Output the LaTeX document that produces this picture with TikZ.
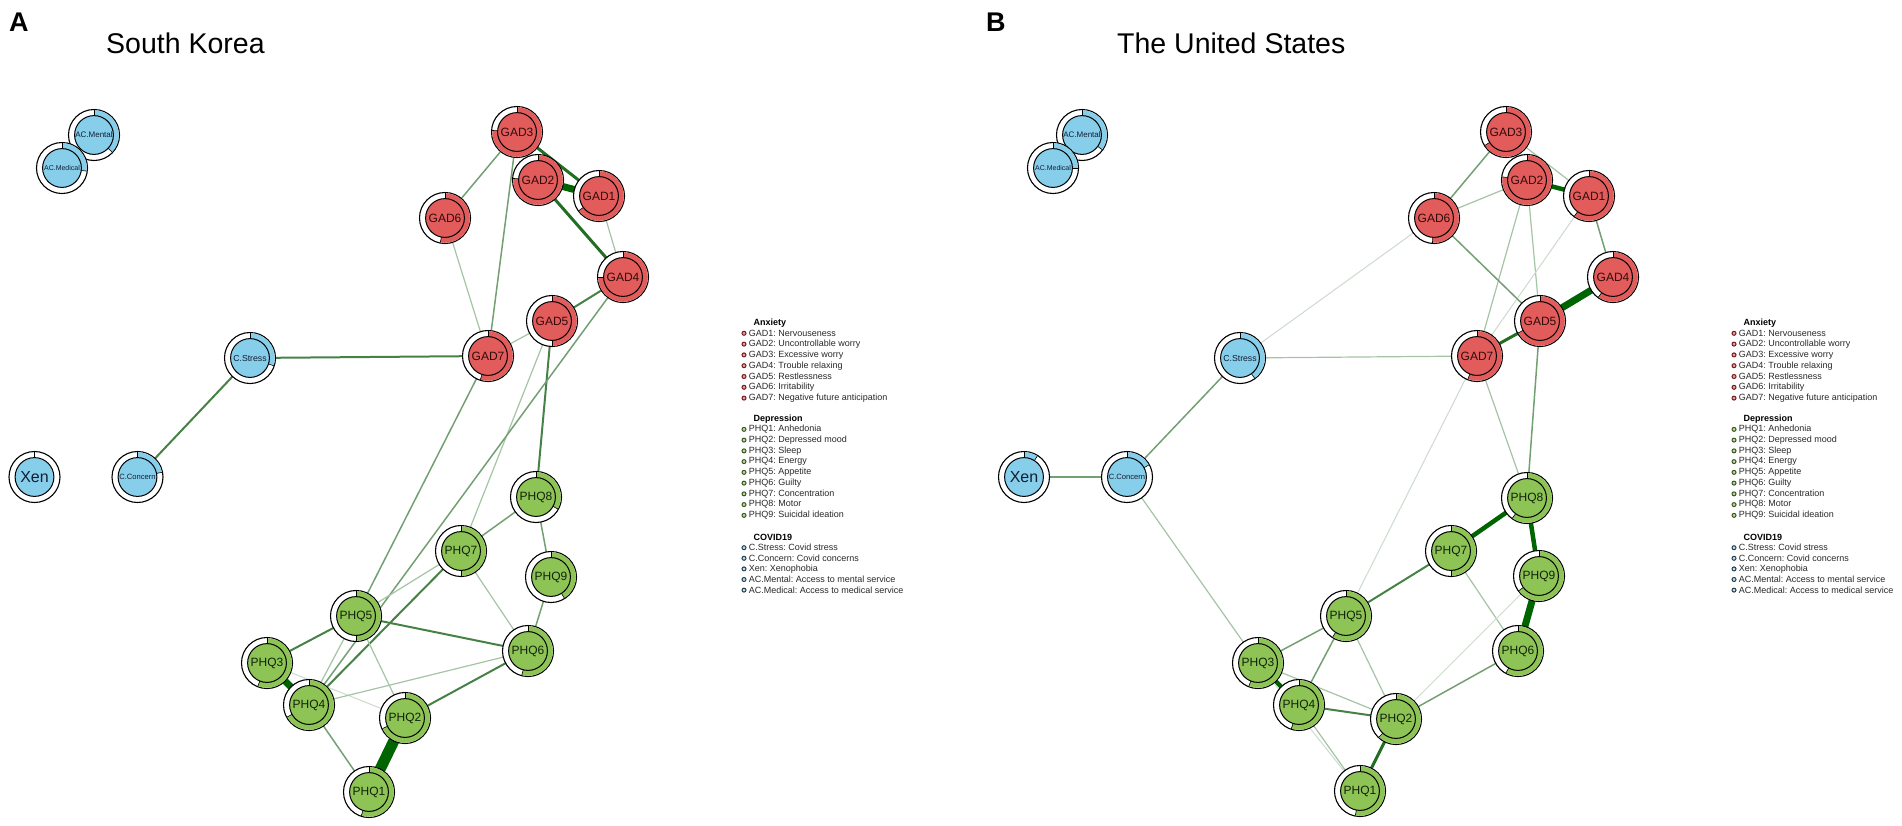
\documentclass[tikz,border=0pt]{standalone}
\usepackage{fontspec}
\setmainfont{Liberation Sans}
\usetikzlibrary{calc}
\pgfdeclarelayer{background}
\pgfsetlayers{background,main}
\frenchspacing
\definecolor{gadc}{RGB}{226,92,92}
\definecolor{phqc}{RGB}{141,196,85}
\definecolor{covc}{RGB}{135,206,235}
\definecolor{gadt}{RGB}{50,10,10}
\definecolor{phqt}{RGB}{18,34,10}
\definecolor{covt}{RGB}{18,30,52}
\definecolor{ea}{RGB}{205,218,205}
\definecolor{eb}{RGB}{165,195,165}
\definecolor{ec}{RGB}{115,160,115}
\definecolor{ed}{RGB}{70,130,70}
\definecolor{ee}{RGB}{35,110,35}
\definecolor{ef}{RGB}{0,100,0}
\definecolor{legt}{RGB}{40,40,40}
\definecolor{bgad}{RGB}{110,30,30}
\definecolor{bphq}{RGB}{60,85,35}
\definecolor{bcov}{RGB}{40,60,75}
\tikzset{
  outer/.style={circle, draw=black, line width=1.1pt, fill=white, minimum size=51pt, inner sep=0pt, outer sep=0pt},
  ticky/.style={draw=black, line width=0.6pt},
  w1/.style={line width=1pt, draw=ea},
  w2/.style={line width=1.2pt, draw=eb},
  w3/.style={line width=1.5pt, draw=ec},
  w4/.style={line width=2pt, draw=ed},
  w5/.style={line width=3pt, draw=ee},
  w6/.style={line width=4.5pt, draw=ef},
  w7/.style={line width=7pt, draw=ef},
  w8/.style={line width=11pt, draw=ef},
  legtxt/.style={anchor=west, inner sep=0pt, font=\fontsize{9}{10}\selectfont\frenchspacing, text=legt},
  leghead/.style={anchor=west, inner sep=0pt, font=\fontsize{9}{10}\selectfont\bfseries, text=black},
  panelletter/.style={anchor=base west, inner sep=0pt, font=\fontsize{27}{27}\selectfont\bfseries},
  paneltitle/.style={anchor=base west, inner sep=0pt, font=\fontsize{28.5}{30}\selectfont},
}
% name, x, y, fill, predictability, label, font size, text colour
\newcommand\netnode[8]{%
  \node[outer] (#1) at (#2,#3) {};
  \fill[#4] (#1.center) -- ++(-90:24.8) arc[start angle=-90, delta angle={360*#5}, radius=24.8] -- cycle;
  \draw[ticky] (#1.center) ++(-90:19.4) -- ++(-90:5.6);
  \draw[ticky] (#1.center) ++({-90+360*#5}:19.4) -- ++({-90+360*#5}:5.6);
  \filldraw[fill=#4, draw=black, line width=1pt] (#1.center) circle[radius=19.4];
  \node[font=\fontsize{#7}{#7}\selectfont, text=#8, inner sep=0pt] (#1-l) at (#1.center) {#6};
}
% prefix, x offset
\newcommand\netlegend[2]{%
  \node[leghead] (#1h1) at (753.3+#2,323.3) {Anxiety};
  \foreach \t [count=\i] in {GAD1: Nervouseness, GAD2: Uncontrollable worry, GAD3: Excessive worry, GAD4: Trouble relaxing, GAD5: Restlessness, GAD6: Irritability, GAD7: Negative future anticipation}{
    \filldraw[draw=bgad, fill=gadc!60, line width=1pt] (744+#2,{322.5+10.8*\i}) circle[radius=2];
    \node[legtxt] (#1a\i) at (748.7+#2,{322.5+10.8*\i}) {\t};
  }
  \node[leghead] (#1h2) at (753.3+#2,419.3) {Depression};
  \foreach \t [count=\i] in {PHQ1: Anhedonia, PHQ2: Depressed mood, PHQ3: Sleep, PHQ4: Energy, PHQ5: Appetite, PHQ6: Guilty, PHQ7: Concentration, PHQ8: Motor, PHQ9: Suicidal ideation}{
    \filldraw[draw=bphq, fill=phqc!60, line width=1pt] (744+#2,{418.6+10.75*\i}) circle[radius=2];
    \node[legtxt] (#1b\i) at (748.7+#2,{418.6+10.75*\i}) {\t};
  }
  \node[leghead] (#1h3) at (753.3+#2,537.3) {COVID19};
  \foreach \t [count=\i] in {C.Stress: Covid stress, C.Concern: Covid concerns, Xen: Xenophobia, AC.Mental: Access to mental service, AC.Medical: Access to medical service}{
    \filldraw[draw=bcov, fill=covc!60, line width=1pt] (744+#2,{537.1+10.6*\i}) circle[radius=2];
    \node[legtxt] (#1c\i) at (748.7+#2,{537.1+10.6*\i}) {\t};
  }
}
\begin{document}
\begin{tikzpicture}[x=1pt,y=-1pt]
\path[use as bounding box] (0,0) rectangle (1902,825);
% titles
\node[panelletter] (letA) at (9,31) {A};
\node[paneltitle] (titA) at (106,53) {South Korea};
\node[panelletter] (letB) at (986,31) {B};
\node[paneltitle] (titB) at (1117,53) {The United States};
% ---------------- panel A nodes
\netnode{lACMe}{94}{135}{covc}{0.37}{AC.Mental}{8}{covt}
\netnode{lACMd}{62}{168}{covc}{0.27}{AC.Medical}{7}{covt}
\netnode{lGAD3}{517}{132}{gadc}{0.76}{GAD3}{12}{gadt}
\netnode{lGAD2}{538}{180}{gadc}{0.76}{GAD2}{12}{gadt}
\netnode{lGAD1}{599}{196}{gadc}{0.65}{GAD1}{12}{gadt}
\netnode{lGAD6}{445}{218}{gadc}{0.53}{GAD6}{12}{gadt}
\netnode{lGAD4}{623}{277}{gadc}{0.75}{GAD4}{12}{gadt}
\netnode{lGAD5}{552}{321}{gadc}{0.50}{GAD5}{12}{gadt}
\netnode{lGAD7}{488}{356}{gadc}{0.55}{GAD7}{12}{gadt}
\netnode{lCS}{250}{358}{covc}{0.30}{C.Stress}{8.7}{covt}
\netnode{lXen}{34.5}{477}{covc}{0.0}{Xen}{16}{covt}
\netnode{lCC}{137.5}{477}{covc}{0.22}{C.Concern}{7.6}{covt}
\netnode{lPHQ8}{536}{497}{phqc}{0.33}{PHQ8}{12}{phqt}
\netnode{lPHQ7}{461}{551}{phqc}{0.50}{PHQ7}{12}{phqt}
\netnode{lPHQ9}{551}{577}{phqc}{0.41}{PHQ9}{12}{phqt}
\netnode{lPHQ5}{356}{616}{phqc}{0.50}{PHQ5}{12}{phqt}
\netnode{lPHQ6}{528}{651}{phqc}{0.54}{PHQ6}{12}{phqt}
\netnode{lPHQ3}{267}{663}{phqc}{0.56}{PHQ3}{12}{phqt}
\netnode{lPHQ4}{309}{705}{phqc}{0.67}{PHQ4}{12}{phqt}
\netnode{lPHQ2}{405}{718}{phqc}{0.68}{PHQ2}{12}{phqt}
\netnode{lPHQ1}{369}{792}{phqc}{0.55}{PHQ1}{12}{phqt}
% ---------------- panel B nodes
\netnode{rACMe}{1082}{135}{covc}{0.35}{AC.Mental}{8}{covt}
\netnode{rACMd}{1053}{168}{covc}{0.25}{AC.Medical}{7}{covt}
\netnode{rGAD3}{1506}{132}{gadc}{0.66}{GAD3}{12}{gadt}
\netnode{rGAD2}{1527}{180}{gadc}{0.77}{GAD2}{12}{gadt}
\netnode{rGAD1}{1589}{196}{gadc}{0.60}{GAD1}{12}{gadt}
\netnode{rGAD6}{1434}{218}{gadc}{0.51}{GAD6}{12}{gadt}
\netnode{rGAD4}{1613}{277}{gadc}{0.60}{GAD4}{12}{gadt}
\netnode{rGAD5}{1540}{321}{gadc}{0.67}{GAD5}{12}{gadt}
\netnode{rGAD7}{1477}{356}{gadc}{0.56}{GAD7}{12}{gadt}
\netnode{rCS}{1240}{358}{covc}{0.40}{C.Stress}{8.7}{covt}
\netnode{rXen}{1024}{477}{covc}{0.09}{Xen}{16}{covt}
\netnode{rCC}{1127}{477}{covc}{0.17}{C.Concern}{7.6}{covt}
\netnode{rPHQ8}{1527}{498}{phqc}{0.60}{PHQ8}{12}{phqt}
\netnode{rPHQ7}{1451}{551}{phqc}{0.50}{PHQ7}{12}{phqt}
\netnode{rPHQ9}{1539}{576}{phqc}{0.65}{PHQ9}{12}{phqt}
\netnode{rPHQ5}{1346}{616}{phqc}{0.59}{PHQ5}{12}{phqt}
\netnode{rPHQ6}{1518}{651}{phqc}{0.58}{PHQ6}{12}{phqt}
\netnode{rPHQ3}{1258}{663}{phqc}{0.56}{PHQ3}{12}{phqt}
\netnode{rPHQ4}{1299}{705}{phqc}{0.55}{PHQ4}{12}{phqt}
\netnode{rPHQ2}{1396}{719}{phqc}{0.62}{PHQ2}{12}{phqt}
\netnode{rPHQ1}{1360}{791}{phqc}{0.53}{PHQ1}{12}{phqt}
% ---------------- edges
\begin{pgfonlayer}{background}
% panel A
\draw[w7] (lGAD1) -- (lGAD2);
\draw[w5] (lGAD3) -- (lGAD1);
\draw[w5] (lGAD2) -- (lGAD4);
\draw[w2] (lGAD1) -- (lGAD4);
\draw[w3] (lGAD3) -- (lGAD6);
\draw[w3] (lGAD3) -- (lGAD7);
\draw[w2] (lGAD6) -- (lGAD7);
\draw[w4] (lGAD4) -- (lGAD5);
\draw[w2] (lGAD5) -- (lGAD7);
\draw[w4] (lGAD7) -- (lCS);
\draw[w4] (lCS) -- (lCC);
\draw[w4] (lGAD5) -- (lPHQ8);
\draw[w2] (lGAD5) -- (lPHQ7);
\draw[w3] (lGAD7) -- (lPHQ5);
\draw[w3] (lGAD4) -- (lPHQ4);
\draw[w3] (lPHQ8) -- (lPHQ7);
\draw[w3] (lPHQ8) -- (lPHQ9);
\draw[w3] (lPHQ9) -- (lPHQ6);
\draw[w2] (lPHQ7) -- (lPHQ5);
\draw[w2] (lPHQ7) -- (lPHQ6);
\draw[w4] (lPHQ7) -- (lPHQ4);
\draw[w4] (lPHQ5) -- (lPHQ6);
\draw[w4] (lPHQ5) -- (lPHQ3);
\draw[w2] (lPHQ5) -- (lPHQ4);
\draw[w2] (lPHQ5) -- (lPHQ2);
\draw[w7] (lPHQ3) -- (lPHQ4);
\draw[w1] (lPHQ3) -- (lPHQ2);
\draw[w2] (lPHQ6) -- (lPHQ4);
\draw[w4] (lPHQ6) -- (lPHQ2);
\draw[w3] (lPHQ4) -- (lPHQ1);
\draw[w8] (lPHQ2) -- (lPHQ1);
% panel B
\draw[w3] (rGAD3) -- (rGAD6);
\draw[w2] (rGAD3) -- (rGAD1);
\draw[w6] (rGAD2) -- (rGAD1);
\draw[w2] (rGAD2) -- (rGAD6);
\draw[w2] (rGAD2) -- (rGAD7);
\draw[w2] (rGAD2) -- (rGAD5);
\draw[w1] (rGAD1) -- (rGAD7);
\draw[w3] (rGAD1) -- (rGAD4);
\draw[w7] (rGAD4) -- (rGAD5);
\draw[w3] (rGAD6) -- (rGAD5);
\draw[w1] (rGAD6) -- (rCS);
\draw[w5] (rGAD7) -- (rGAD5);
\draw[w2] (rGAD7) -- (rCS);
\draw[w3] (rCS) -- (rCC);
\draw[w3] (rCC) -- (rXen);
\draw[w2] (rCC) -- (rPHQ3);
\draw[w1] (rGAD7) -- (rPHQ5);
\draw[w2] (rGAD7) -- (rPHQ8);
\draw[w3] (rGAD5) -- (rPHQ8);
\draw[w6] (rPHQ8) -- (rPHQ7);
\draw[w6] (rPHQ8) -- (rPHQ9);
\draw[w7] (rPHQ9) -- (rPHQ6);
\draw[w4] (rPHQ7) -- (rPHQ5);
\draw[w2] (rPHQ7) -- (rPHQ6);
\draw[w1] (rPHQ9) -- (rPHQ2);
\draw[w3] (rPHQ6) -- (rPHQ2);
\draw[w3] (rPHQ5) -- (rPHQ3);
\draw[w3] (rPHQ5) -- (rPHQ4);
\draw[w2] (rPHQ5) -- (rPHQ2);
\draw[w6] (rPHQ3) -- (rPHQ4);
\draw[w2] (rPHQ3) -- (rPHQ2);
\draw[w4] (rPHQ4) -- (rPHQ2);
\draw[w2] (rPHQ4) -- (rPHQ1);
\draw[w1] (rPHQ3) -- (rPHQ1);
\draw[w5] (rPHQ2) -- (rPHQ1);
\end{pgfonlayer}
% ---------------- legends
\netlegend{lg}{0}
\netlegend{rg}{990}
\end{tikzpicture}
\end{document}
